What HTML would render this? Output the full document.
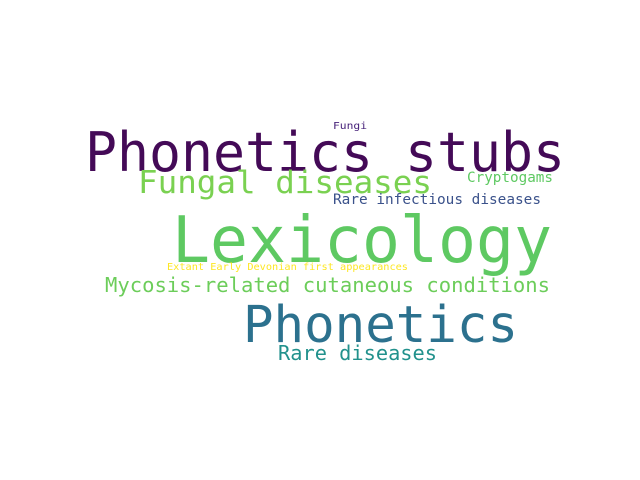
<!DOCTYPE html>
<html><head><meta charset="utf-8"><style>
html,body{margin:0;padding:0;background:#fff;width:640px;height:480px;overflow:hidden}
text{font-family:"DejaVu Sans Mono","Liberation Mono",monospace}
</style></head><body>
<svg width="640" height="480" xmlns="http://www.w3.org/2000/svg">
<rect width="640" height="480" fill="#fff"/>
<text x="85" y="171" font-size="54" fill="#440a57" textLength="480" lengthAdjust="spacingAndGlyphs">Phonetics stubs</text>
<text x="333" y="129" font-size="10" fill="#48237a" textLength="34" lengthAdjust="spacingAndGlyphs">Fungi</text>
<text x="138" y="193" font-size="31" fill="#7ad151" textLength="294" lengthAdjust="spacingAndGlyphs">Fungal diseases</text>
<text x="467" y="182" font-size="14" fill="#5ec962" textLength="86" lengthAdjust="spacingAndGlyphs">Cryptogams</text>
<text x="333" y="204" font-size="14" fill="#3b528b" textLength="208" lengthAdjust="spacingAndGlyphs">Rare infectious diseases</text>
<text x="172" y="262" font-size="64" fill="#5ec962" textLength="380" lengthAdjust="spacingAndGlyphs">Lexicology</text>
<text x="167" y="270" font-size="10" fill="#fde725" textLength="241" lengthAdjust="spacingAndGlyphs">Extant Early Devonian first appearances</text>
<text x="105" y="292" font-size="20" fill="#6ccd5a" textLength="445" lengthAdjust="spacingAndGlyphs">Mycosis-related cutaneous conditions</text>
<text x="243" y="342" font-size="51" fill="#2c718e" textLength="275" lengthAdjust="spacingAndGlyphs">Phonetics</text>
<text x="278" y="360" font-size="20" fill="#21918c" textLength="159" lengthAdjust="spacingAndGlyphs">Rare diseases</text>
</svg>
</body></html>
